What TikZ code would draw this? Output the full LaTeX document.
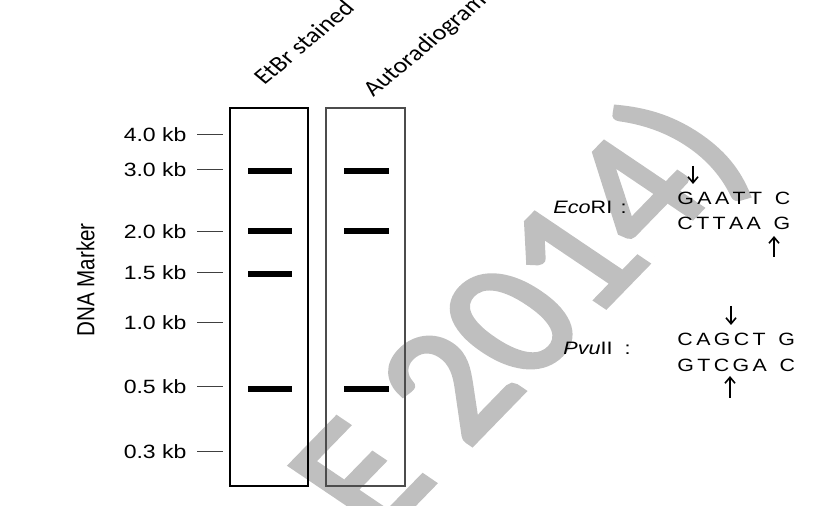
\documentclass[tikz,border=0pt]{standalone}
\usepackage{fontspec}
\setmainfont{Carlito}
\newfontfamily\arialfont{Liberation Sans}
\newfontfamily\stampfont[FakeBold=3]{Carlito}
\usetikzlibrary{arrows.meta, positioning}

\newcommand\strand[6]{#1\hspace{1.4pt}#2\hspace{1.4pt}#3\hspace{1.4pt}#4\hspace{1.4pt}#5\hspace{5.3pt}#6}

\begin{document}
\begin{tikzpicture}[x=0.5pt, y=-0.5pt,
  wide/.style={xscale=1.2},
  lane/.style={draw, line width=0.6pt, minimum width=39pt, minimum height=189pt, inner sep=0},
  band/.style={line width=3pt},
  tick/.style={draw=black!75, line width=0.5pt},
  kblabel/.style={font=\arialfont\fontsize{9.6}{11}\selectfont, wide, anchor=east, inner sep=0},
  header/.style={font=\fontsize{11}{13}\selectfont, wide, rotate=45, anchor=base west, inner sep=0},
  enzyme/.style={font=\arialfont\fontsize{9}{11}\selectfont, wide, anchor=base west, inner sep=0},
  seq/.style={font=\arialfont\fontsize{8.9}{11}\selectfont, wide, anchor=base west, inner sep=0},
  cut/.style={line width=0.8pt, -{Straight Barb[length=3pt, width=5pt]}},
  watermark/.style={font=\stampfont\fontsize{81}{81}\selectfont, text=black!25, wide, rotate=51, anchor=base west, inner sep=0},
]
\useasboundingbox (0,0) rectangle (824,506);
\begin{scope}
\clip (0,0) rectangle (824,506);

% watermark
\node[watermark] (stamp) at (379,540) {E 2014)};

% gel lanes
\node[lane] (etbr) at (269,297) {};
\node[lane, draw=black!70, minimum width=39.5pt] (autorad) at (365.5,297) {};
\node[header] (etbrlabel) at (264,86) {EtBr stained};
\node[header] (autolabel) at (373,98) {Autoradiogram};

\foreach \y in {171,231,274,389}
  \draw[band] (248,\y) -- (292,\y);
\foreach \y in {171,231,389}
  \draw[band] (344,\y) -- (389,\y);

% marker
\node[font=\arialfont\fontsize{10.3}{12}\selectfont, wide, rotate=90] (marker) at (85.5,280) {DNA Marker};
\foreach \kb/\y [count=\i] in {4.0/135, 3.0/170, 2.0/232, 1.5/273, 1.0/323, 0.5/387, 0.3/452} {
  \node[kblabel] (kb\i) at (187,\y) {\kb\ kb};
  \draw[tick] (197,\y) -- (223,\y);
}

% restriction sites
\node[enzyme] (eco) at (553,214) {\textit{Eco}RI\hspace{3.5pt}:};
\node[seq] (ecotop) at (677,205) {\strand GAATTC};
\node[seq] (ecobot) at (677,229.5) {\strand CTTAAG};
\coordinate (ecoA1) at (693,166);
\coordinate (ecoA2) at (693,184);
\coordinate (ecoB1) at (774,257);
\coordinate (ecoB2) at (774,236);
\draw[cut] (ecoA1) -- (ecoA2);
\draw[cut] (ecoB1) -- (ecoB2);

\node[enzyme] (pvu) at (563,355) {\textit{Pvu}II\hspace{5pt}:};
\node[seq] (pvutop) at (677,346) {\strand CAGCTG};
\node[seq] (pvubot) at (677,371.7) {\strand GTCGAC};
\coordinate (pvuA1) at (731,306);
\coordinate (pvuA2) at (731,325);
\coordinate (pvuB1) at (730,398);
\coordinate (pvuB2) at (730,376);
\draw[cut] (pvuA1) -- (pvuA2);
\draw[cut] (pvuB1) -- (pvuB2);
\end{scope}
\end{tikzpicture}
\end{document}
